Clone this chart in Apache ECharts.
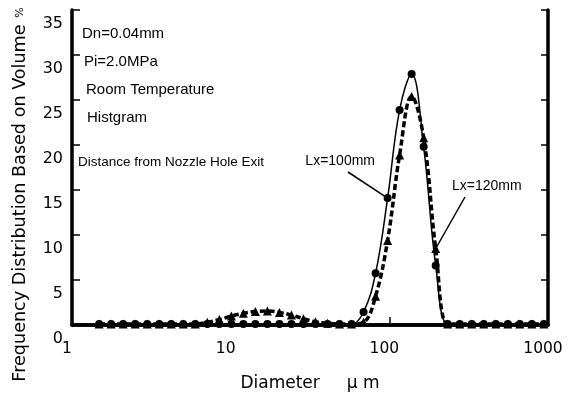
<!DOCTYPE html>
<html>
<head>
<meta charset="utf-8">
<script src="https://cdn.jsdelivr.net/npm/echarts@6/dist/echarts.min.js"></script>
<style>
  html, body { margin: 0; padding: 0; background: #fff; }
  #chart { width: 575px; height: 397px; }
</style>
</head>
<body>
<div id="chart"></div>
<script>
// Droplet size bins (diameter, µm), log-spaced
const diameters = [
  1.482, 1.765, 2.101, 2.502, 2.979, 3.546, 4.222, 5.027, 5.984, 7.124,
  8.482, 10.10, 12.02, 14.31, 17.04, 20.29, 24.16, 28.76, 34.24, 40.77,
  48.54, 57.79, 68.80, 81.91, 97.52, 116.1, 138.2, 164.6, 196.0, 233.3,
  277.8, 330.7, 393.7, 468.8, 558.1, 664.5, 791.1, 941.9
];

// Volume frequency (%) at Lx = 100 mm
const freqLx100 = [
  0.1, 0.1, 0.1, 0.1, 0.1, 0.1, 0.1, 0.1, 0.1, 0.1,
  0.1, 0.1, 0.1, 0.1, 0.1, 0.1, 0.1, 0.1, 0.1, 0.1,
  0.1, 0.1, 1.45, 5.75, 14.1, 23.9, 27.9, 19.8, 6.6, 0.1,
  0.1, 0.1, 0.1, 0.1, 0.1, 0.1, 0.1, 0.1
];

// Volume frequency (%) at Lx = 120 mm
const freqLx120 = [
  0.1, 0.1, 0.1, 0.1, 0.1, 0.1, 0.1, 0.1, 0.1, 0.3,
  0.6, 1.0, 1.3, 1.5, 1.55, 1.4, 1.1, 0.7, 0.35, 0.2,
  0.1, 0.1, 0.3, 3.2, 9.4, 18.9, 25.4, 20.8, 8.5, 0.1,
  0.1, 0.1, 0.1, 0.1, 0.1, 0.1, 0.1, 0.1
];

const xTickLabels = ['1', '10', '100', '1000'];
const yTickLabels = ['0', '5', '10', '15', '20', '25', '30', '35'];

const conditionNotes = ['Dn=0.04mm', 'Pi=2.0MPa', 'Room Temperature', 'Histgram'];
const distanceNote = 'Distance from Nozzle Hole Exit';

// bins that the callout lines point at
const calloutBin100 = 24;
const calloutBin120 = 28;

const chart = echarts.init(document.getElementById('chart'), null, { renderer: 'canvas' });

const black = '#000';
const tickFont = 'DejaVu Sans';
const noteFont = 'Liberation Sans';

const frameAxis = {
  axisLine: { show: true, lineStyle: { color: black, width: 3.5 } },
  splitLine: { show: false },
  minorTick: { show: false },
  minorSplitLine: { show: false }
};

const notePos = [[82, 34], [84, 62], [86, 90], [87, 118]];

const graphics = conditionNotes.map((t, i) => ({
  type: 'text',
  x: notePos[i][0],
  y: notePos[i][1],
  style: { text: t, fill: black, fontFamily: noteFont, fontSize: 15, verticalAlign: 'middle' }
}));
graphics.push({
  type: 'text', x: 78, y: 162,
  style: { text: distanceNote, fill: black, fontFamily: noteFont, fontSize: 13.5, verticalAlign: 'middle' }
});
graphics.push({
  type: 'text', x: 375, y: 161,
  style: { text: 'Lx=100mm', fill: black, fontFamily: noteFont, fontSize: 14, align: 'right', verticalAlign: 'middle' }
});
graphics.push({
  type: 'text', x: 452, y: 186,
  style: { text: 'Lx=120mm', fill: black, fontFamily: noteFont, fontSize: 14, verticalAlign: 'middle' }
});

const option = {
  animation: false,
  backgroundColor: '#fff',
  grid: { left: 72, right: 27, top: 10, bottom: 70, containLabel: false },
  xAxis: [
    Object.assign({}, frameAxis, {
      type: 'log', logBase: 10, min: 1, max: 1000,
      position: 'bottom',
      axisTick: { show: true, inside: true, length: 8, lineStyle: { color: black, width: 1.5 } },
      axisLabel: {
        color: black, fontFamily: tickFont, fontSize: 15.5, margin: 16,
        padding: [0, 10, 0, 0],
        formatter: v => xTickLabels[Math.round(Math.log10(v))]
      },
      name: 'Diameter     \u03bc m',
      nameLocation: 'middle',
      nameGap: 50,
      nameTextStyle: { color: black, fontFamily: tickFont, fontSize: 17, padding: [0, 0, 0, 0] }
    }),
    Object.assign({}, frameAxis, {
      type: 'log', logBase: 10, min: 1, max: 1000,
      position: 'top',
      axisTick: { show: false },
      axisLabel: { show: false }
    })
  ],
  yAxis: [
    Object.assign({}, frameAxis, {
      type: 'value', min: 0, max: 35, interval: 5,
      position: 'left',
      axisTick: { show: true, inside: true, length: 8, lineStyle: { color: black, width: 1.5 } },
      axisLabel: {
        color: black, fontFamily: tickFont, fontSize: 16, margin: 9,
        verticalAlign: 'top', padding: [6, 0, 0, 0],
        formatter: v => yTickLabels[Math.round(v / 5)]
      },
      name: '{t|Frequency Distribution Based on Volume}  {p|%}',
      nameLocation: 'middle',
      nameGap: 43,
      nameTextStyle: {
        color: black, padding: [0, 54, 0, 0],
        rich: {
          t: { fontFamily: tickFont, fontSize: 17.6, color: black },
          p: { fontFamily: tickFont, fontSize: 11, color: black }
        }
      }
    }),
    Object.assign({}, frameAxis, {
      type: 'value', min: 0, max: 35, interval: 5,
      position: 'right',
      axisTick: { show: true, inside: true, length: 7, lineStyle: { color: black, width: 1.5 } },
      axisLabel: { show: false }
    })
  ],
  series: [
    {
      name: 'Lx=120mm',
      type: 'line',
      data: diameters.map((d, i) => [d, freqLx120[i]]),
      smooth: 0.4,
      symbol: 'triangle',
      symbolSize: 9,
      showAllSymbol: true,
      lineStyle: { color: black, width: 3.5, type: [6, 3] },
      itemStyle: { color: black, borderWidth: 0 },
      z: 3,
      markLine: {
        silent: true, symbol: 'none',
        lineStyle: { color: black, width: 1.5, type: 'solid' },
        label: { show: false },
        data: [[{ x: 465, y: 197 }, { coord: [diameters[calloutBin120], freqLx120[calloutBin120]] }]]
      }
    },
    {
      name: 'Lx=100mm',
      type: 'line',
      data: diameters.map((d, i) => [d, freqLx100[i]]),
      smooth: 0.4,
      symbol: 'circle',
      symbolSize: 8,
      showAllSymbol: true,
      lineStyle: { color: black, width: 1.5 },
      itemStyle: { color: black, borderWidth: 0 },
      z: 4,
      markLine: {
        silent: true, symbol: 'none',
        lineStyle: { color: black, width: 1.5, type: 'solid' },
        label: { show: false },
        data: [[{ x: 348, y: 172 }, { coord: [diameters[calloutBin100], freqLx100[calloutBin100]] }]]
      }
    }
  ],
  graphic: graphics
};

chart.setOption(option);
</script>
</body>
</html>
